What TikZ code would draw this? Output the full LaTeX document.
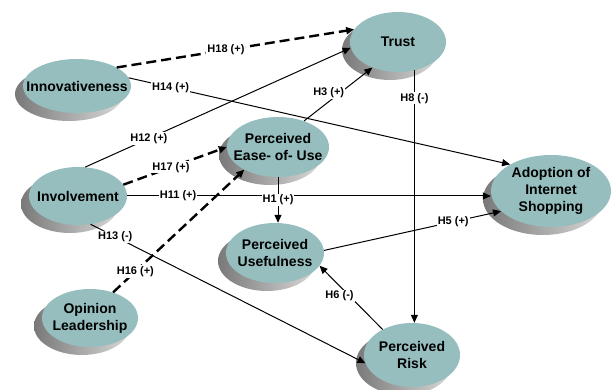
\documentclass[tikz,border=0pt]{standalone}
\usepackage{fontspec}
\setmainfont{Liberation Sans}
\usetikzlibrary{shapes.geometric,shadows,arrows.meta}
\definecolor{facefill}{RGB}{150,190,190}
\tikzset{
	face/.style={ellipse, fill=facefill, inner sep=0pt,
		general shadow={shadow xshift=-8pt, shadow yshift=-8pt, left color=gray!95!black, right color=gray!30}},
	txt/.style={font=\fontsize{14}{17}\selectfont\bfseries, align=center},
	hyp/.style={font=\fontsize{11}{12}\selectfont\bfseries, fill=white, inner sep=1pt},
	link/.style={line width=1pt, -{Triangle[length=8pt,width=7pt]}},
	dlink/.style={link, line width=2.4pt, dash pattern=on 10pt off 5pt},
}

\begin{document}
\begin{tikzpicture}[x=1pt,y=-1pt]
			%%%%% START %%%%%
			
			\useasboundingbox[fill=white] (0, 0) rectangle (614, 390);
			
			%% constructs
			\node[face, minimum width=96, minimum height=60, label={[txt]center:Trust}] (trust) at (398, 42) {};
			\node[face, minimum width=108, minimum height=54, label={[txt]center:Innovativeness}] (innov) at (77, 86) {};
			\node[face, minimum width=102, minimum height=60, label={[txt]center:Perceived\\Ease- of- Use}] (peou) at (278, 147) {};
			\node[face, minimum width=98, minimum height=58, label={[txt]center:Involvement}] (invol) at (78, 196) {};
			\node[face, minimum width=98, minimum height=60, label={[txt]center:Perceived\\Usefulness}] (pu) at (275, 253) {};
			\node[face, minimum width=96, minimum height=58, label={[txt]center:Opinion\\Leadership}] (opin) at (90, 318) {};
			\node[face, minimum width=96, minimum height=64, label={[txt]center:Perceived\\Risk}] (risk) at (412, 355) {};
			\node[face, minimum width=120, minimum height=72, label={[txt]center:Adoption of\\Internet\\Shopping}] (adopt) at (551, 191) {};
			
			%% hypotheses
			\draw[dlink] (innov.25) -- node[hyp, pos=.46] {H18 (+)} (trust.164);
			\draw[link] (innov.9) -- node[hyp, pos=.11] {H14 (+)} (adopt.147);
			\draw[link] (invol.76) -- node[hyp, pos=.24] {H12 (+)} (trust.187);
			\draw[link] (peou.45) -- node[hyp, pos=.42, xshift=-4, yshift=6] {H3 (+)} (trust.225);
			\draw[link] (trust.-60) -- node[hyp, pos=.11] {H8 (-)} (trust.-60 |- risk.north);
			\draw[dlink] (invol.14) -- node[hyp, pos=.46] {H17 (+)} (peou.180);
			\draw[link] (invol.east) -- node[hyp, pos=.14] {H11 (+)} (invol.east -| adopt.west);
			\draw[link] (peou.south) -- node[hyp] {H1 (+)} (peou.south |- pu.north);
			\draw[dlink] (opin.48) -- node[hyp, pos=.17] {H16 (+)} (peou.214);
			\draw[link] (invol.-66) -- node[hyp, pos=.09] {H13 (-)} (risk.190);
			\draw[link] (pu.3) -- node[hyp, pos=.73] {H5 (+)} (adopt.202);
			\draw[link] (risk.139) -- node[hyp, pos=.62, xshift=-4, yshift=-6] {H6 (-)} (pu.-16);
			
			%%%%% END %%%%%
\end{tikzpicture}
\end{document}
